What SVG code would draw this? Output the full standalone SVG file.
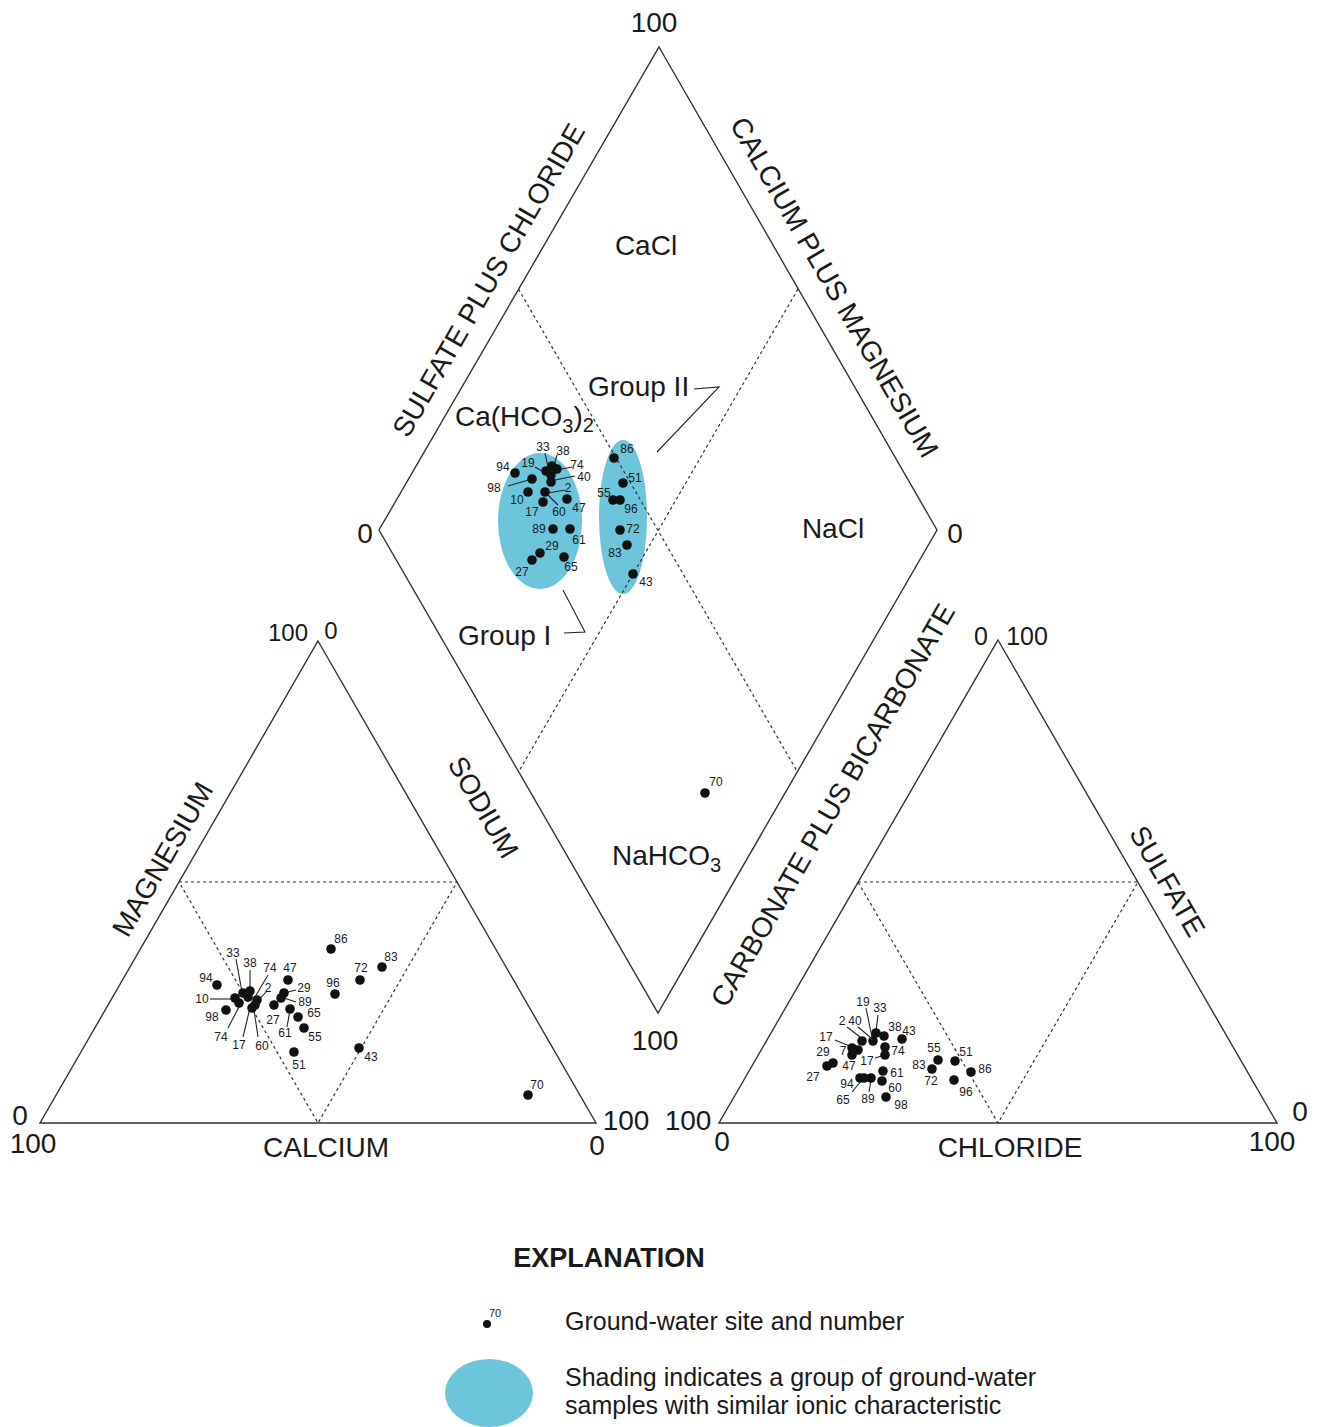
<svg xmlns="http://www.w3.org/2000/svg" width="1322" height="1427" viewBox="0 0 1322 1427">
<style>
.frame{fill:none;stroke:#333;stroke-width:1.4}
.dash{fill:none;stroke:#333;stroke-width:1.2;stroke-dasharray:3 3}
.t{font-family:"Liberation Sans",Arial,sans-serif;font-size:28px;fill:#1a1a1a}
.tb{font-family:"Liberation Sans",Arial,sans-serif;font-size:27px;font-weight:bold;fill:#1a1a1a;text-anchor:middle}
.lg{font-family:"Liberation Sans",Arial,sans-serif;font-size:25px;fill:#1a1a1a}
.m{text-anchor:middle}
.n{font-family:"Liberation Sans",Arial,sans-serif;font-size:12px;fill:#1a1a1a;text-anchor:middle}
.d{fill:#111}
.shade{fill:#6cc5dc}
.ld{fill:none;stroke:#222;stroke-width:1.1}
</style>
<rect width="1322" height="1427" fill="#fff"/>

<g id="shading">
<ellipse class="shade" cx="540" cy="521" rx="42" ry="68"/>
<ellipse class="shade" cx="623" cy="517" rx="24" ry="77"/>
</g>

<g id="diamond">
<polygon class="frame" points="659,47 937,530 658,1013 379,530"/>
<line class="dash" x1="518.5" y1="289" x2="797.5" y2="772"/>
<line class="dash" x1="798" y1="289" x2="518.5" y2="772"/>
<text class="t m" x="654" y="32">100</text>
<text class="t m" x="655" y="1050">100</text>
<text class="t m" x="365" y="543">0</text>
<text class="t m" x="955" y="543">0</text>
<text class="t m" x="646" y="255">CaCl</text>
<text class="t" x="455" y="426">Ca(HCO<tspan font-size="20" dy="7">3</tspan><tspan dy="-7">)</tspan><tspan font-size="20" dy="6">2</tspan></text>
<text class="t m" x="833" y="538">NaCl</text>
<text class="t" x="612" y="865">NaHCO<tspan font-size="20" dy="7">3</tspan></text>
<text class="t" x="588" y="396">Group II</text>
<text class="t" x="458" y="645">Group I</text>
<text class="t m" transform="translate(497,285) rotate(-60)">SULFATE PLUS CHLORIDE</text>
<text class="t m" transform="translate(826,292) rotate(60)">CALCIUM PLUS MAGNESIUM</text>
<text class="t m" transform="translate(475,812) rotate(60)">SODIUM</text>
<text class="t m" transform="translate(841,810) rotate(-60)">CARBONATE PLUS BICARBONATE</text>
</g>

<g id="cation-triangle">
<polygon class="frame" points="318,641 596,1123 40,1123"/>
<polyline class="dash" points="179,882 457,882 318,1123 179,882"/>
<text class="t m" style="font-size:24px" x="288" y="641">100</text>
<text class="t m" style="font-size:24px" x="331" y="639">0</text>
<text class="t m" x="20" y="1125">0</text>
<text class="t m" x="33" y="1153">100</text>
<text class="t m" x="597" y="1155">0</text>
<text class="t m" x="626" y="1130">100</text>
<text class="t m" x="326" y="1157">CALCIUM</text>
<text class="t m" transform="translate(171,864) rotate(-60)">MAGNESIUM</text>
</g>

<g id="anion-triangle">
<polygon class="frame" points="998,640 1277,1123 719,1123"/>
<polyline class="dash" points="858,882 1138,882 998,1123 858,882"/>
<text class="t m" style="font-size:25px" x="981" y="645">0</text>
<text class="t m" style="font-size:25px" x="1027" y="645">100</text>
<text class="t m" x="688" y="1130">100</text>
<text class="t m" x="722" y="1151">0</text>
<text class="t m" x="1272" y="1151">100</text>
<text class="t m" x="1300" y="1121">0</text>
<text class="t m" x="1010" y="1157">CHLORIDE</text>
<text class="t m" transform="translate(1159,886) rotate(60)">SULFATE</text>
</g>

<g id="connectors">
<polyline class="ld" points="694,389 719,387 657,452"/>
<polyline class="ld" points="564,633 585,632 563,590"/>
<line class="ld" x1="508" y1="486" x2="532" y2="479"/>
<line class="ld" x1="535" y1="467" x2="547" y2="474"/>
<line class="ld" x1="545" y1="453" x2="548" y2="467"/>
<line class="ld" x1="557" y1="455" x2="554" y2="465"/>
<line class="ld" x1="572" y1="467" x2="557" y2="470"/>
<line class="ld" x1="575" y1="476" x2="555" y2="480"/>
<line class="ld" x1="565" y1="490" x2="548" y2="493"/>
<line class="ld" x1="558" y1="505" x2="548" y2="495"/>
<line class="ld" x1="236" y1="959" x2="242" y2="992"/>
<line class="ld" x1="250" y1="970" x2="250" y2="990"/>
<line class="ld" x1="268" y1="975" x2="255" y2="997"/>
<line class="ld" x1="210" y1="999" x2="235" y2="999"/>
<line class="ld" x1="266" y1="992" x2="257" y2="1002"/>
<line class="ld" x1="296" y1="990" x2="284" y2="993"/>
<line class="ld" x1="296" y1="1002" x2="284" y2="998"/>
<line class="ld" x1="287" y1="1027" x2="290" y2="1010"/>
<line class="ld" x1="228" y1="1028" x2="240" y2="1005"/>
<line class="ld" x1="243" y1="1037" x2="250" y2="1008"/>
<line class="ld" x1="258" y1="1037" x2="254" y2="1010"/>
<line class="ld" x1="866" y1="1008" x2="872" y2="1037"/>
<line class="ld" x1="878" y1="1015" x2="876" y2="1031"/>
<line class="ld" x1="847" y1="1027" x2="860" y2="1037"/>
<line class="ld" x1="858" y1="1027" x2="870" y2="1037"/>
<line class="ld" x1="835" y1="1040" x2="852" y2="1047"/>
<line class="ld" x1="875" y1="1058" x2="885" y2="1055"/>
<line class="ld" x1="852" y1="1092" x2="862" y2="1080"/>
<line class="ld" x1="869" y1="1092" x2="871" y2="1080"/>
</g>

<g id="diamond-points">
<circle class="d" cx="515" cy="473" r="4.8"/>
<circle class="d" cx="532" cy="479" r="4.8"/>
<circle class="d" cx="546" cy="471" r="4.8"/>
<circle class="d" cx="552" cy="466" r="4.8"/>
<circle class="d" cx="557" cy="469" r="4.8"/>
<circle class="d" cx="551" cy="475" r="4.8"/>
<circle class="d" cx="551" cy="482" r="4.8"/>
<circle class="d" cx="545" cy="492" r="4.8"/>
<circle class="d" cx="543" cy="502" r="4.8"/>
<circle class="d" cx="528" cy="492" r="4.8"/>
<circle class="d" cx="567" cy="499" r="4.8"/>
<circle class="d" cx="553" cy="529" r="4.8"/>
<circle class="d" cx="570" cy="529" r="4.8"/>
<circle class="d" cx="540" cy="553" r="4.8"/>
<circle class="d" cx="532" cy="560" r="4.8"/>
<circle class="d" cx="564" cy="557" r="4.8"/>
<circle class="d" cx="614" cy="458" r="4.8"/>
<circle class="d" cx="623" cy="483" r="4.8"/>
<circle class="d" cx="613" cy="500" r="4.8"/>
<circle class="d" cx="620" cy="500" r="4.8"/>
<circle class="d" cx="620" cy="530" r="4.8"/>
<circle class="d" cx="627" cy="545" r="4.8"/>
<circle class="d" cx="633" cy="574" r="4.8"/>
<circle class="d" cx="705" cy="793" r="4.8"/>
<text class="n" x="503" y="471">94</text>
<text class="n" x="494" y="492">98</text>
<text class="n" x="528" y="467">19</text>
<text class="n" x="543" y="451">33</text>
<text class="n" x="563" y="455">38</text>
<text class="n" x="577" y="469">74</text>
<text class="n" x="584" y="481">40</text>
<text class="n" x="568" y="492">2</text>
<text class="n" x="517" y="504">10</text>
<text class="n" x="532" y="516">17</text>
<text class="n" x="559" y="516">60</text>
<text class="n" x="579" y="512">47</text>
<text class="n" x="539" y="533">89</text>
<text class="n" x="579" y="544">61</text>
<text class="n" x="552" y="550">29</text>
<text class="n" x="522" y="576">27</text>
<text class="n" x="571" y="571">65</text>
<text class="n" x="627" y="453">86</text>
<text class="n" x="635" y="482">51</text>
<text class="n" x="604" y="497">55</text>
<text class="n" x="631" y="513">96</text>
<text class="n" x="633" y="533">72</text>
<text class="n" x="615" y="557">83</text>
<text class="n" x="646" y="586">43</text>
<text class="n" x="716" y="786">70</text>
</g>

<g id="cation-points">
<circle class="d" cx="331" cy="949" r="4.8"/>
<circle class="d" cx="382" cy="967" r="4.8"/>
<circle class="d" cx="360" cy="980" r="4.8"/>
<circle class="d" cx="335" cy="994" r="4.8"/>
<circle class="d" cx="359" cy="1048" r="4.8"/>
<circle class="d" cx="217" cy="985" r="4.8"/>
<circle class="d" cx="288" cy="980" r="4.8"/>
<circle class="d" cx="226" cy="1010" r="4.8"/>
<circle class="d" cx="290" cy="1009" r="4.8"/>
<circle class="d" cx="298" cy="1017" r="4.8"/>
<circle class="d" cx="304" cy="1028" r="4.8"/>
<circle class="d" cx="294" cy="1052" r="4.8"/>
<circle class="d" cx="528" cy="1095" r="4.8"/>
<circle class="d" cx="284" cy="993" r="4.8"/>
<circle class="d" cx="281" cy="998" r="4.8"/>
<circle class="d" cx="274" cy="1005" r="4.8"/>
<circle class="d" cx="235" cy="998" r="4.8"/>
<circle class="d" cx="239" cy="1003" r="4.8"/>
<circle class="d" cx="243" cy="993" r="4.8"/>
<circle class="d" cx="250" cy="991" r="4.8"/>
<circle class="d" cx="248" cy="997" r="4.8"/>
<circle class="d" cx="257" cy="1000" r="4.8"/>
<circle class="d" cx="252" cy="1008" r="4.8"/>
<circle class="d" cx="255" cy="1005" r="4.8"/>
<text class="n" x="341" y="943">86</text>
<text class="n" x="391" y="961">83</text>
<text class="n" x="361" y="972">72</text>
<text class="n" x="333" y="987">96</text>
<text class="n" x="371" y="1061">43</text>
<text class="n" x="206" y="982">94</text>
<text class="n" x="233" y="957">33</text>
<text class="n" x="250" y="967">38</text>
<text class="n" x="270" y="972">74</text>
<text class="n" x="290" y="972">47</text>
<text class="n" x="202" y="1003">10</text>
<text class="n" x="212" y="1021">98</text>
<text class="n" x="268" y="992">2</text>
<text class="n" x="304" y="992">29</text>
<text class="n" x="305" y="1006">89</text>
<text class="n" x="273" y="1024">27</text>
<text class="n" x="285" y="1037">61</text>
<text class="n" x="314" y="1017">65</text>
<text class="n" x="315" y="1041">55</text>
<text class="n" x="299" y="1069">51</text>
<text class="n" x="221" y="1041">74</text>
<text class="n" x="239" y="1049">17</text>
<text class="n" x="262" y="1050">60</text>
<text class="n" x="537" y="1089">70</text>
</g>

<g id="anion-points">
<circle class="d" cx="876" cy="1033" r="4.8"/>
<circle class="d" cx="884" cy="1036" r="4.8"/>
<circle class="d" cx="873" cy="1041" r="4.8"/>
<circle class="d" cx="862" cy="1041" r="4.8"/>
<circle class="d" cx="902" cy="1039" r="4.8"/>
<circle class="d" cx="852" cy="1048" r="4.8"/>
<circle class="d" cx="858" cy="1050" r="4.8"/>
<circle class="d" cx="852" cy="1055" r="4.8"/>
<circle class="d" cx="885" cy="1047" r="4.8"/>
<circle class="d" cx="885" cy="1055" r="4.8"/>
<circle class="d" cx="833" cy="1063" r="4.8"/>
<circle class="d" cx="827" cy="1066" r="4.8"/>
<circle class="d" cx="883" cy="1071" r="4.8"/>
<circle class="d" cx="860" cy="1078" r="4.8"/>
<circle class="d" cx="864" cy="1078" r="4.8"/>
<circle class="d" cx="871" cy="1078" r="4.8"/>
<circle class="d" cx="882" cy="1081" r="4.8"/>
<circle class="d" cx="886" cy="1097" r="4.8"/>
<circle class="d" cx="938" cy="1060" r="4.8"/>
<circle class="d" cx="932" cy="1069" r="4.8"/>
<circle class="d" cx="955" cy="1061" r="4.8"/>
<circle class="d" cx="971" cy="1072" r="4.8"/>
<circle class="d" cx="954" cy="1080" r="4.8"/>
<text class="n" x="863" y="1006">19</text>
<text class="n" x="880" y="1012">33</text>
<text class="n" x="842" y="1025">2</text>
<text class="n" x="855" y="1025">40</text>
<text class="n" x="895" y="1031">38</text>
<text class="n" x="909" y="1035">43</text>
<text class="n" x="826" y="1041">17</text>
<text class="n" x="843" y="1055">7</text>
<text class="n" x="898" y="1055">74</text>
<text class="n" x="823" y="1056">29</text>
<text class="n" x="813" y="1081">27</text>
<text class="n" x="849" y="1070">47</text>
<text class="n" x="867" y="1065">17</text>
<text class="n" x="897" y="1077">61</text>
<text class="n" x="847" y="1088">94</text>
<text class="n" x="843" y="1104">65</text>
<text class="n" x="868" y="1103">89</text>
<text class="n" x="895" y="1092">60</text>
<text class="n" x="901" y="1109">98</text>
<text class="n" x="934" y="1052">55</text>
<text class="n" x="919" y="1069">83</text>
<text class="n" x="931" y="1085">72</text>
<text class="n" x="966" y="1056">51</text>
<text class="n" x="985" y="1073">86</text>
<text class="n" x="966" y="1096">96</text>
</g>

<g id="legend">
<text class="tb" x="609" y="1267">EXPLANATION</text>
<circle class="d" cx="487" cy="1324" r="4"/>
<text class="n" style="font-size:11px" x="495" y="1317">70</text>
<text class="lg" x="565" y="1330">Ground-water site and number</text>
<ellipse class="shade" cx="489" cy="1393" rx="44" ry="34"/>
<text class="lg" x="565" y="1386">Shading indicates a group of ground-water</text>
<text class="lg" x="565" y="1414">samples with similar ionic characteristic</text>
</g>
</svg>
